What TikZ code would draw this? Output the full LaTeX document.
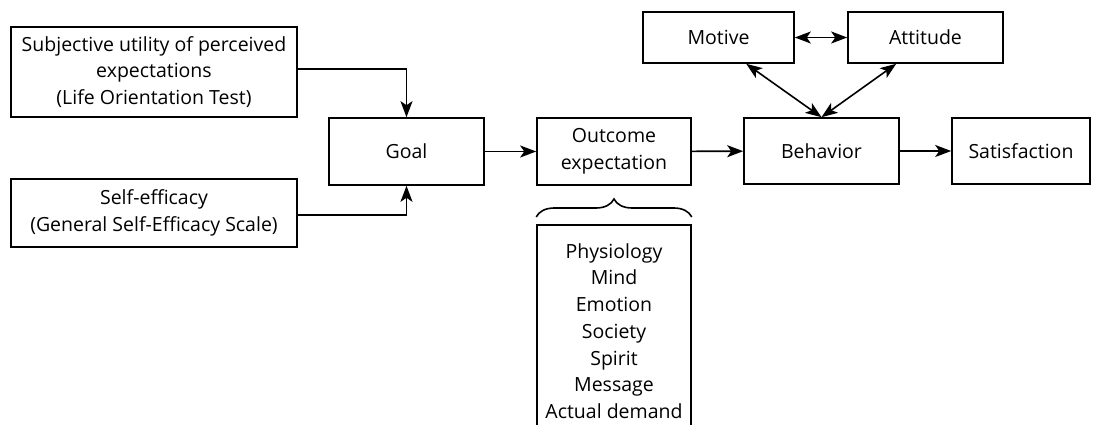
\documentclass[tikz,border=0pt]{standalone}
\usepackage{fontspec}
\setmainfont{Open Sans}
\usetikzlibrary{arrows.meta,decorations.pathreplacing}
\begin{document}
\begin{tikzpicture}[x=1pt,y=1pt,
  box/.style={draw,line width=1.6pt,inner sep=0pt,align=center,
    font=\fontsize{19.5}{26.7}\selectfont},
  tip/.tip={Stealth[length=16pt,width=12pt,inset=4pt]},
  arr/.style={line width=1.6pt,-tip},
  darr/.style={line width=1.6pt,tip-tip}]
\useasboundingbox (0,0) rectangle (1096,-425);
\node[box,minimum width=286pt,minimum height=90pt] (subj) at (154,-72)
  {Subjective utility of perceived\\expectations\\(Life Orientation Test)};
\node[box,minimum width=286pt,minimum height=68pt] (self) at (154,-213)
  {Self-efficacy\\(General Self-Efficacy Scale)};
\node[box,minimum width=155pt,minimum height=67pt] (goal) at (406.5,-151.5) {Goal};
\node[box,minimum width=154pt,minimum height=67pt] (out) at (614,-151.5) {Outcome\\expectation};
\node[box,minimum width=155pt,minimum height=66pt] (beh) at (821.5,-151) {Behavior};
\node[box,minimum width=138pt,minimum height=66pt] (sat) at (1021,-151) {Satisfaction};
\node[box,minimum width=151pt,minimum height=51pt] (mot) at (718.5,-37.5) {Motive};
\node[box,minimum width=155pt,minimum height=51pt] (att) at (925.5,-37.5) {Attitude};
\node[box,minimum width=154pt,minimum height=212pt] (list) at (614,-331)
  {Physiology\\Mind\\Emotion\\Society\\Spirit\\Message\\Actual demand};
\draw[line width=1.6pt,decorate,decoration={brace,amplitude=18pt}]
  (out.south west |- 0,-217) coordinate (bl) -- (out.south east |- 0,-217) coordinate (br);
\draw[arr] (subj.east |- 0,-69) -| (goal.north);
\draw[arr] (self.east |- 0,-215) -| (goal.south);
\draw[arr] (goal) -- (out);
\draw[arr] (out) -- (beh);
\draw[arr] (beh) -- (sat);
\draw[darr] (mot) -- (att);
\draw[darr] (mot.south west) ++(104,0) coordinate (m1) (m1) -- (beh.north);
\draw[darr] (att.south west) ++(49,0) coordinate (a1) (a1) -- (beh.north);
\end{tikzpicture}
\end{document}
